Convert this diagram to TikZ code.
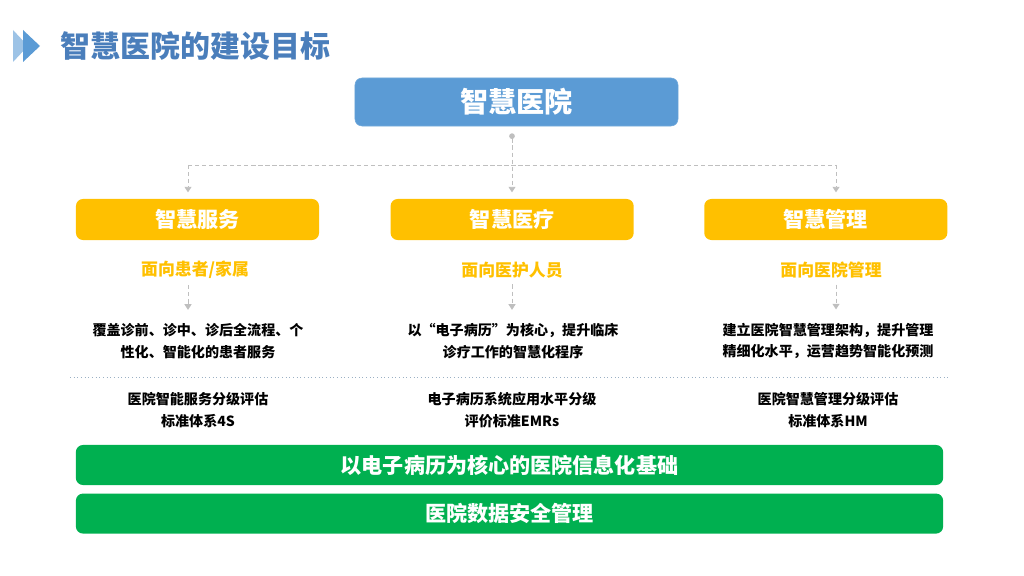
\documentclass[tikz,border=0pt]{standalone}
\usepackage{fontspec}
\setmainfont{Noto Sans CJK SC}
\usetikzlibrary{arrows.meta,positioning}
\definecolor{hospblue}{HTML}{5B9BD5}
\definecolor{paleblue}{HTML}{9DC3E6}
\definecolor{titleblue}{HTML}{4A7EBB}
\definecolor{gold}{HTML}{FFC000}
\definecolor{leafgreen}{HTML}{00B050}
\definecolor{linegray}{HTML}{BFBFBF}
\definecolor{sepgray}{HTML}{9BB0C4}

\begin{document}
\begin{tikzpicture}[x=0.025cm, y=-0.025cm,
  hub/.style={rectangle, fill=hospblue, draw=hospblue!85!white, rounded corners=5pt,
              minimum width=8.075cm, minimum height=1.2cm,
              text=white, font=\bfseries\fontsize{20}{24}\selectfont},
  pillar/.style={rectangle, fill=gold, rounded corners=5pt,
                 minimum width=6.075cm, minimum height=1.025cm,
                 text=white, font=\bfseries\fontsize{15}{18}\selectfont},
  target/.style={text=gold, font=\bfseries\fontsize{12}{14}\selectfont},
  goal/.style={align=center, font=\bfseries\fontsize{10}{15.6}\selectfont},
  norm/.style={align=center, font=\bfseries\fontsize{10}{15.6}\selectfont},
  base/.style={rectangle, fill=leafgreen, rounded corners=5pt,
               minimum width=21.675cm, minimum height=1cm,
               text=white, font=\bfseries\fontsize{15}{18}\selectfont},
  link/.style={draw=linegray, line width=0.7pt, dash pattern=on 3pt off 2pt},
  tip/.style={-{Triangle[width=5pt,length=4pt,fill=linegray]}}
]
  \useasboundingbox (0,0) rectangle (1024,576);

  % Title
  \fill[paleblue] (13,30) -- (28,46) -- (13,62) -- cycle;
  \fill[hospblue] (23,30) -- (40,46) -- (23,62) -- cycle;
  \node[anchor=west, text=titleblue, font=\bfseries\fontsize{21.3}{24}\selectfont]
    (title) at (56,46) {智慧医院的建设目标};

  % Blocks
  \node[hub] (hub) at (516.5,102) {智慧医院};
  \node[pillar] (serv) at (197.5,219.5) {智慧服务};
  \node[pillar, right=1.775cm of serv] (care) {智慧医疗};
  \node[pillar, right=1.75cm of care]  (mgmt) {智慧管理};

  \node[target] (servsub) at (195,270) {面向患者/家属};
  \node[target] (caresub) at (512,270) {面向医护人员};
  \node[target] (mgmtsub) at (831,270) {面向医院管理};

  \node[goal] (servdesc) at (198,341) {覆盖诊前、诊中、诊后全流程、个\\性化、智能化的患者服务};
  \node[goal] (caredesc) at (513,341) {以“电子病历”为核心，提升临床\\诊疗工作的智慧化程序};
  \node[goal] (mgmtdesc) at (828,341) {建立医院智慧管理架构，提升管理\\精细化水平，运营趋势智能化预测};

  \node[norm] (servstd) at (198,410) {医院智能服务分级评估\\标准体系4S};
  \node[norm] (carestd) at (512,410) {电子病历系统应用水平分级\\评价标准EMRs};
  \node[norm] (mgmtstd) at (828,410) {医院智慧管理分级评估\\标准体系HM};

  \node[base] (base1) at (509.5,465) {以电子病历为核心的医院信息化基础};
  \node[base, below=0.2cm of base1] (base2) {医院数据安全管理};

  % Tree connectors
  \coordinate (sj) at (188,165);
  \coordinate (cj) at (512,165);
  \coordinate (mj) at (836,165);
  \draw[link, {Circle[length=4pt,fill=linegray]}-{Triangle[width=5pt,length=4pt,fill=linegray]},
        shorten <=5pt, shorten >=4.5pt] (cj |- hub.south) -- (cj |- care.north);
  \draw[link] (sj) -- (mj);
  \draw[link, tip, shorten >=4.5pt] (sj) -- (sj |- serv.north);
  \draw[link, tip, shorten >=4.5pt] (mj) -- (mj |- mgmt.north);

  % Audience to goal
  \draw[link, tip, shorten <=1pt, shorten >=6pt] (sj |- servsub.south) -- (sj |- servdesc.north);
  \draw[link, tip, shorten <=1pt, shorten >=6pt] (cj |- caresub.south) -- (cj |- caredesc.north);
  \draw[link, tip, shorten <=1pt, shorten >=6pt] (mj |- mgmtsub.south) -- (mj |- mgmtdesc.north);

  % Separator
  \draw[sepgray, line width=0.6pt, dotted] (70,377) -- (948,377);
\end{tikzpicture}
\end{document}
